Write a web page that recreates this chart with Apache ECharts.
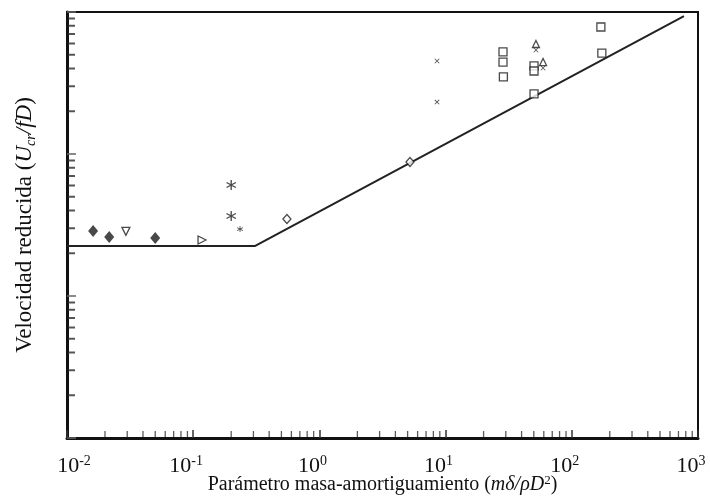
<!DOCTYPE html>
<html>
<head>
<meta charset="utf-8">
<script src="https://cdn.jsdelivr.net/npm/echarts@6/dist/echarts.min.js"></script>
<style>
  html, body { margin: 0; padding: 0; background: #fff; }
  #chart { width: 710px; height: 498px; }
</style>
</head>
<body>
<div id="chart"></div>
<script>
// Reduced velocity vs. mass-damping parameter (log-log)
const xMin = 0.01, xMax = 1000;
const yMin = 0.1, yMax = 100;
const xDecades = [0.01, 0.1, 1, 10, 100, 1000];
const yDecades = [0.1, 1, 10, 100];
const minorMultipliers = [2, 3, 4, 5, 6, 7, 8, 9];

// Stability boundary: flat, then rising
const boundary = [[0.01, 2.25], [0.31, 2.25], [774, 93.7]];

// Measured points, grouped by marker
const filledDiamonds = [[0.0161, 2.87], [0.0216, 2.60], [0.050, 2.56]];
const downTriangles = [[0.0293, 2.85]];
const rightTriangles = [[0.1175, 2.48]];
const asterisks = [[0.20, 6.05], [0.20, 3.66]];
const smallAsterisks = [[0.235, 2.96]];
const openDiamonds = [[0.553, 3.49], [5.22, 8.78]];
const crosses = [[8.55, 45.2], [8.55, 23.2], [52, 54], [59.2, 40.3]];
const openSquares = [[28.5, 52.3], [28.5, 44.4], [28.7, 34.9], [50.2, 41.7], [50.2, 38.4],
                     [50.2, 26.5], [170, 78.4], [173, 51.4]];
const openTriangles = [[52, 59.5], [59.2, 44.4]];

const serif = "'Liberation Serif', 'Times New Roman', serif";
const ink = '#1c1c1c';

// minor tick positions (2..9 within each decade)
function minorValues(decades) {
  const out = [];
  for (let i = 0; i < decades.length - 1; i++) {
    minorMultipliers.forEach(m => out.push(m * decades[i]));
  }
  return out;
}
const xMinor = minorValues(xDecades).map(v => [v, yMin]);
const yMinor = minorValues(yDecades).map(v => [xMin, v]);

const asteriskPath = 'path://M-1.25,-10L1.25,-10L1.25,10L-1.25,10Z' +
  'M8.035,6.083L-9.285,-3.917L-8.035,-6.083L9.285,3.917Z' +
  'M-9.285,3.917L8.035,-6.083L9.285,-3.917L-8.035,6.083Z';
const crossPath = 'path://M6.19,7.95L-7.95,-6.19L-6.19,-7.95L7.95,6.19Z' +
  'M-7.95,6.19L6.19,-7.95L7.95,-6.19L-6.19,7.95Z';

function pts(name, data, symbol, size, hollow, extra) {
  return Object.assign({
    name: name,
    type: 'scatter',
    data: data,
    symbol: symbol,
    symbolSize: size,
    z: 5,
    itemStyle: hollow
      ? { color: '#fff', borderColor: ink, borderWidth: 1.3 }
      : { color: ink }
  }, extra || {});
}

// decade label: 10 with a raised exponent
function decadeLabel(v) {
  const e = Math.round(Math.log10(v));
  return e === -2
    ? '{g|}{b|10}{s|' + e + '}'
    : '{b|10}{s|' + e + '}{g|}';
}

const chart = echarts.init(document.getElementById('chart'));
chart.setOption({
  animation: false,
  backgroundColor: '#fff',
  grid: {
    left: 67, right: 12, top: 12, bottom: 60,
    outerBoundsMode: 'none',
    containLabel: false,
    show: true, borderColor: '#111', borderWidth: 2
  },
  xAxis: {
    type: 'log', logBase: 10, min: xMin, max: xMax,
    axisLine: { lineStyle: { color: '#111', width: 3 } },
    axisTick: { inside: true, length: 8, lineStyle: { color: '#333', width: 1.5 } },
    splitLine: { show: false },
    axisLabel: {
      margin: 16,
      color: '#111',
      formatter: decadeLabel,
      rich: {
        b: { fontFamily: serif, fontSize: 22, lineHeight: 24, color: '#111' },
        s: { fontFamily: serif, fontSize: 14, lineHeight: 14, verticalAlign: 'top', color: '#111' },
        g: { width: 14 }
      }
    },
    name: 'Parámetro masa-amortiguamiento ({i|mδ/ρD}{sup|2})',
    nameLocation: 'middle',
    nameMoveOverlap: false,
    nameGap: 36,
    nameTextStyle: {
      fontFamily: serif, fontSize: 20, color: '#111', lineHeight: 22,
      rich: {
        i: { fontFamily: serif, fontSize: 20, fontStyle: 'italic', color: '#111', lineHeight: 22 },
        sup: { fontFamily: serif, fontSize: 13, color: '#111', verticalAlign: 'top', lineHeight: 12 }
      }
    }
  },
  yAxis: {
    type: 'log', logBase: 10, min: yMin, max: yMax,
    axisLine: { lineStyle: { color: '#111', width: 3 } },
    axisTick: { inside: true, length: 9, lineStyle: { color: '#666', width: 1.5 } },
    axisLabel: { show: false },
    splitLine: { show: false },
    name: 'Velocidad reducida ({i|U}{sub|cr}{i|/fD})',
    nameLocation: 'middle',
    nameMoveOverlap: false,
    nameGap: 29,
    nameTextStyle: {
      fontFamily: serif, fontSize: 23, color: '#111', lineHeight: 26,
      rich: {
        i: { fontFamily: serif, fontSize: 23, fontStyle: 'italic', color: '#111', lineHeight: 26 },
        sub: { fontFamily: serif, fontSize: 14, fontStyle: 'italic', color: '#111', verticalAlign: 'bottom', lineHeight: 14 }
      }
    }
  },
  series: [
    {
      name: 'x minor ticks', type: 'scatter', data: xMinor, silent: true, clip: false,
      symbol: 'rect', symbolSize: [1.3, 6], symbolOffset: [0, -4], z: 3,
      itemStyle: { color: '#333' }
    },
    {
      name: 'y minor ticks', type: 'scatter', data: yMinor, silent: true, clip: false,
      symbol: 'rect', symbolSize: [7, 2], symbolOffset: [4.5, 0], z: 3,
      itemStyle: { color: '#2a2a2a' }
    },
    {
      name: 'boundary', type: 'line', data: boundary, symbol: 'none', z: 2,
      lineStyle: { color: '#222', width: 2 }
    },
    pts('filled diamonds', filledDiamonds, 'diamond', [10, 12], false),
    pts('down triangles', downTriangles, 'triangle', 8, true, { symbolRotate: 180 }),
    pts('right triangles', rightTriangles, 'triangle', 8, true, { symbolRotate: -90 }),
    pts('asterisks', asterisks, asteriskPath, 10, false),
    pts('small asterisks', smallAsterisks, asteriskPath, 6, false),
    pts('open diamonds', openDiamonds, 'diamond', [8, 9], true),
    pts('crosses', crosses, crossPath, 5, false),
    pts('open squares', openSquares, 'rect', [8, 8], true),
    pts('open triangles', openTriangles, 'triangle', 7, true)
  ]
});
</script>
</body>
</html>
